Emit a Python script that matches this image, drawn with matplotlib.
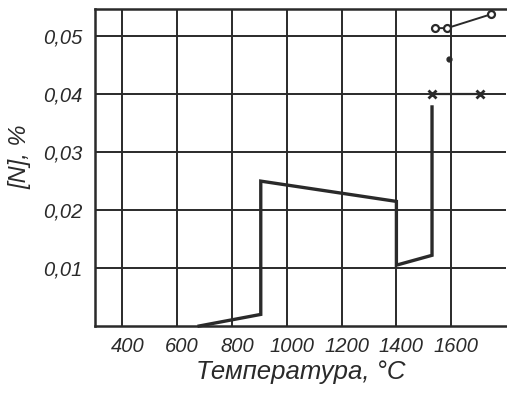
import matplotlib
matplotlib.use("Agg")
import matplotlib.pyplot as plt
import matplotlib.transforms as mtransforms

# Main curve: nitrogen content vs temperature
temp_main = [680, 905, 905, 1400, 1400, 1530, 1530]
n_main = [0.0, 0.002, 0.025, 0.0215, 0.0105, 0.0122, 0.0378]

# Cross-marked series
temp_x = [1530, 1705]
n_x = [0.040, 0.040]

# Circle-marked series
temp_o = [1542, 1585, 1746]
n_o = [0.0514, 0.0514, 0.0538]

# Isolated dot
temp_dot = [1592]
n_dot = [0.046]

xticks = [400, 600, 800, 1000, 1200, 1400, 1600]
yticks = [0.01, 0.02, 0.03, 0.04, 0.05]
ytick_labels = ["0,01", "0,02", "0,03", "0,04", "0,05"]

ink = "#2a2a2a"
font = ["Liberation Sans", "DejaVu Sans"]

fig = plt.figure(figsize=(5.07, 3.97), dpi=100)
ax = fig.add_axes([95 / 507, 1 - 326 / 397, 411 / 507, 317 / 397])

ax.set_xlim(300, 1800)
ax.set_ylim(0, 0.0547)
ax.set_xticks(xticks)
ax.set_yticks(yticks)
ax.set_yticklabels(ytick_labels)
ax.grid(True, color=ink, lw=1.4)
ax.set_axisbelow(True)

for s in ["left", "bottom", "top"]:
    ax.spines[s].set_color(ink)
    ax.spines[s].set_linewidth(1.8)
ax.spines["right"].set_visible(False)

ax.tick_params(length=0, colors=ink)
ax.tick_params(axis="y", pad=9)
ax.tick_params(axis="x", pad=8)
for lab in ax.get_xticklabels() + ax.get_yticklabels():
    lab.set_fontfamily(font)
    lab.set_fontstyle("italic")
    lab.set_fontsize(14.5)
    lab.set_color(ink)

off = mtransforms.ScaledTranslation(5 / 100, 0, fig.dpi_scale_trans)
for lab in ax.get_xticklabels():
    lab.set_transform(lab.get_transform() + off)

ax.plot(temp_main, n_main, color=ink, lw=2.4, solid_joinstyle="miter", clip_on=False)
ax.plot(temp_x, n_x, color=ink, lw=1.6, marker="x", ms=6, mew=2.0)
ax.plot(temp_o, n_o, color=ink, lw=1.4, marker="o", ms=5, mfc="white", mew=1.6)
ax.plot(temp_dot, n_dot, color=ink, lw=0, marker="o", ms=3.5)

fig.text(301 / 507, 1 - 372 / 397, "Температура, °C", ha="center", va="center",
         fontsize=18.5, fontstyle="italic", family=font, color=ink)
fig.text(20 / 507, 1 - 157 / 397, "[N], %", ha="center", va="center", rotation=90,
         fontsize=17, fontstyle="italic", family=font, color=ink)

fig.savefig("out.png", dpi=100, facecolor="white")
